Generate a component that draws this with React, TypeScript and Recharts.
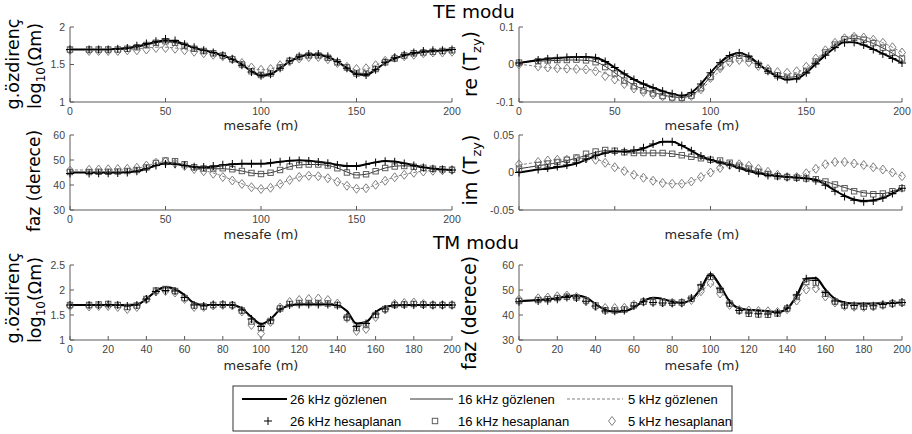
import React from "react";
import { LineChart, Line, XAxis, YAxis } from "recharts";

// mesafe (m)
const mesafe = [
  0, 5, 10, 15, 20, 25, 30, 35, 40, 45, 50, 55, 60, 65, 70, 75, 80, 85, 90, 95, 100,
  105, 110, 115, 120, 125, 130, 135, 140, 145, 150, 155, 160, 165, 170, 175, 180, 185, 190, 195, 200,
];

// TE modu - görünür özdirenç (log10)
const teRho26g = [1.70,1.70,1.70,1.70,1.70,1.71,1.72,1.74,1.77,1.80,1.82,1.81,1.77,1.72,1.69,1.66,1.62,1.57,1.50,1.41,1.35,1.37,1.45,1.54,1.60,1.63,1.63,1.60,1.54,1.45,1.37,1.36,1.43,1.52,1.58,1.62,1.65,1.67,1.68,1.69,1.70];
const teRho16g = [1.70,1.70,1.70,1.70,1.70,1.70,1.71,1.73,1.76,1.79,1.80,1.79,1.76,1.72,1.69,1.66,1.62,1.57,1.50,1.42,1.37,1.38,1.46,1.54,1.60,1.62,1.62,1.59,1.54,1.46,1.39,1.38,1.44,1.52,1.58,1.62,1.64,1.66,1.67,1.68,1.69];
const teRho5g = [1.70,1.70,1.70,1.70,1.70,1.70,1.70,1.71,1.72,1.73,1.73,1.72,1.70,1.68,1.66,1.64,1.61,1.57,1.52,1.46,1.43,1.44,1.49,1.54,1.58,1.60,1.60,1.57,1.52,1.47,1.43,1.44,1.49,1.55,1.59,1.62,1.64,1.66,1.67,1.67,1.68];
const teRho26h = [1.70,null,1.70,1.70,1.70,1.71,1.72,1.75,1.78,1.81,1.84,1.82,1.77,1.73,1.69,1.66,1.62,1.57,1.49,1.40,1.35,1.37,1.45,1.55,1.61,1.64,1.64,1.61,1.54,1.45,1.37,1.36,1.43,1.53,1.59,1.63,1.66,1.68,1.69,1.69,1.70];
const teRho16h = [1.70,null,1.70,1.70,1.70,1.70,1.71,1.73,1.76,1.79,1.81,1.79,1.75,1.71,1.68,1.65,1.62,1.57,1.50,1.41,1.36,1.38,1.46,1.55,1.60,1.62,1.62,1.59,1.53,1.46,1.38,1.38,1.44,1.53,1.58,1.62,1.65,1.66,1.67,1.68,1.69];
const teRho5h = [1.69,null,1.68,1.68,1.68,1.68,1.69,1.69,1.70,1.72,1.72,1.71,1.69,1.67,1.65,1.63,1.61,1.57,1.52,1.46,1.43,1.44,1.49,1.54,1.58,1.60,1.60,1.57,1.52,1.47,1.44,1.45,1.49,1.55,1.59,1.61,1.63,1.65,1.66,1.66,1.67];

// TE modu - re(Tzy)
const teRe26g = [0.004,0.008,0.012,0.015,0.017,0.019,0.020,0.020,0.018,0.008,-0.008,-0.025,-0.040,-0.052,-0.062,-0.071,-0.078,-0.083,-0.075,-0.052,-0.022,0.005,0.024,0.031,0.022,0.002,-0.018,-0.032,-0.040,-0.038,-0.022,0.002,0.025,0.045,0.060,0.059,0.052,0.041,0.029,0.017,0.004];
const teRe16g = [0.005,0.007,0.009,0.010,0.011,0.012,0.012,0.011,0.007,-0.005,-0.022,-0.040,-0.055,-0.066,-0.074,-0.081,-0.086,-0.088,-0.082,-0.062,-0.032,-0.004,0.016,0.024,0.017,0.000,-0.016,-0.028,-0.034,-0.032,-0.016,0.008,0.032,0.052,0.066,0.070,0.065,0.056,0.044,0.030,0.015];
const teRe5g = [0.000,-0.002,-0.006,-0.008,-0.010,-0.011,-0.012,-0.013,-0.016,-0.024,-0.036,-0.050,-0.062,-0.071,-0.078,-0.083,-0.086,-0.087,-0.084,-0.068,-0.042,-0.016,0.002,0.010,0.008,-0.004,-0.014,-0.022,-0.025,-0.021,-0.008,0.014,0.036,0.056,0.069,0.075,0.073,0.067,0.058,0.046,0.032];
const teRe26h = [0.004,null,0.012,0.015,0.017,0.019,0.020,0.020,0.018,0.008,-0.008,-0.025,-0.040,-0.052,-0.062,-0.071,-0.078,-0.083,-0.075,-0.052,-0.022,0.005,0.024,0.031,0.022,0.002,-0.018,-0.032,-0.040,-0.038,-0.022,0.002,0.025,0.045,0.058,0.059,0.052,0.040,0.028,0.016,0.004];
const teRe16h = [0.005,null,0.009,0.011,0.012,0.012,0.013,0.011,0.006,-0.007,-0.024,-0.043,-0.058,-0.069,-0.077,-0.084,-0.088,-0.089,-0.083,-0.063,-0.033,-0.005,0.016,0.023,0.016,-0.001,-0.017,-0.029,-0.035,-0.033,-0.017,0.008,0.032,0.053,0.067,0.071,0.066,0.057,0.045,0.031,0.016];
const teRe5h = [0.000,null,-0.005,-0.008,-0.010,-0.011,-0.012,-0.013,-0.018,-0.031,-0.040,-0.052,-0.064,-0.073,-0.080,-0.085,-0.088,-0.089,-0.084,-0.066,-0.036,-0.010,0.006,0.012,0.006,-0.004,-0.012,-0.020,-0.022,-0.018,-0.006,0.016,0.038,0.058,0.070,0.074,0.072,0.066,0.058,0.046,0.032];

// TE modu - faz (derece)
const teFaz26g = [45.0,45.0,45.0,45.0,45.0,45.0,45.2,45.6,46.5,47.8,48.6,48.4,47.8,47.2,47.0,47.3,47.9,48.3,48.5,48.5,48.5,48.8,49.3,49.7,49.9,49.7,49.3,48.8,48.1,47.6,47.6,48.3,49.1,49.6,49.4,48.7,47.9,47.1,46.6,46.2,46.0];
const teFaz16g = [45.0,45.0,45.0,45.0,45.0,45.0,45.1,45.3,46.2,47.8,49.0,48.8,48.0,47.0,46.6,46.5,46.5,46.2,45.6,44.8,44.5,44.9,46.0,47.3,48.0,48.2,48.2,47.8,46.8,45.2,44.0,44.3,45.5,46.8,47.5,47.7,47.4,47.0,46.6,46.3,46.0];
const teFaz5g = [46.0,46.0,46.0,46.0,46.0,46.0,46.1,46.6,47.6,48.7,49.3,48.6,47.6,46.6,45.8,44.8,43.5,42.0,40.5,39.2,38.5,39.0,40.5,42.0,43.2,43.8,43.6,42.8,41.4,39.8,38.6,38.8,40.2,41.8,43.2,44.2,45.0,45.5,45.8,46.0,46.0];
const teFaz26h = [44.6,null,44.6,44.7,44.7,44.8,45.0,45.5,46.5,47.8,48.4,48.3,47.8,47.3,47.2,47.6,48.1,48.4,48.6,48.5,48.6,48.9,49.3,49.7,49.8,49.6,49.2,48.7,48.0,47.5,47.5,48.2,49.0,49.5,49.3,48.6,47.8,47.0,46.5,46.2,46.0];
const teFaz16h = [45.2,null,45.2,45.3,45.3,45.4,45.6,46.0,47.0,48.8,49.8,49.5,48.3,47.1,46.6,46.6,46.7,46.3,45.6,44.8,44.4,44.9,46.0,47.4,48.0,48.2,48.2,47.8,46.7,45.0,43.9,44.3,45.5,46.8,47.4,47.6,47.3,46.9,46.5,46.3,46.1];
const teFaz5h = [45.8,null,46.1,46.2,46.3,46.4,46.5,46.9,47.8,48.9,49.4,48.6,47.6,46.4,45.5,44.5,43.2,41.8,40.4,39.1,38.4,38.9,40.4,42.0,43.2,43.7,43.5,42.7,41.3,39.7,38.5,38.7,40.1,41.7,43.1,44.1,44.9,45.4,45.7,45.9,46.0];

// TE modu - im(Tzy)
const teIm26g = [0.000,0.002,0.004,0.005,0.007,0.009,0.012,0.017,0.022,0.026,0.028,0.028,0.029,0.032,0.037,0.041,0.041,0.036,0.029,0.022,0.017,0.013,0.010,0.006,0.002,-0.001,-0.003,-0.005,-0.006,-0.007,-0.008,-0.010,-0.016,-0.024,-0.031,-0.036,-0.038,-0.037,-0.034,-0.028,-0.021];
const teIm16g = [0.005,0.007,0.009,0.011,0.013,0.016,0.019,0.023,0.027,0.029,0.029,0.027,0.026,0.026,0.026,0.026,0.025,0.023,0.021,0.019,0.017,0.015,0.012,0.008,0.004,0.001,-0.002,-0.004,-0.005,-0.006,-0.007,-0.009,-0.012,-0.016,-0.020,-0.024,-0.027,-0.028,-0.028,-0.025,-0.021];
const teIm5g = [0.010,0.012,0.014,0.015,0.016,0.017,0.018,0.019,0.018,0.013,0.008,0.003,-0.002,-0.006,-0.010,-0.013,-0.015,-0.015,-0.012,-0.006,0.000,0.005,0.010,0.011,0.009,0.005,0.001,-0.003,-0.006,-0.006,-0.001,0.005,0.011,0.014,0.014,0.012,0.010,0.007,0.004,0.000,-0.005];
const teIm26h = [0.000,null,0.004,0.006,0.008,0.010,0.013,0.018,0.023,0.026,0.028,0.028,0.030,0.033,0.038,0.041,0.041,0.036,0.029,0.022,0.017,0.013,0.010,0.006,0.002,-0.001,-0.004,-0.005,-0.006,-0.007,-0.008,-0.011,-0.017,-0.025,-0.032,-0.037,-0.039,-0.038,-0.034,-0.028,-0.021];
const teIm16h = [0.005,null,0.010,0.012,0.014,0.017,0.020,0.025,0.028,0.030,0.029,0.027,0.026,0.026,0.026,0.026,0.025,0.023,0.021,0.019,0.017,0.016,0.013,0.009,0.005,0.001,-0.002,-0.005,-0.006,-0.007,-0.008,-0.009,-0.012,-0.016,-0.021,-0.025,-0.028,-0.029,-0.028,-0.025,-0.021];
const teIm5h = [0.011,null,0.014,0.016,0.017,0.017,0.018,0.019,0.017,0.013,0.007,0.002,-0.003,-0.007,-0.011,-0.014,-0.015,-0.015,-0.012,-0.006,0.000,0.006,0.010,0.011,0.009,0.005,0.001,-0.003,-0.006,-0.006,-0.001,0.005,0.011,0.014,0.014,0.012,0.010,0.007,0.004,0.000,-0.005];

// TM modu - görünür özdirenç (log10)
const tmRho26g = [1.70,1.70,1.70,1.70,1.70,1.70,1.70,1.71,1.82,1.98,2.06,2.02,1.90,1.74,1.70,1.70,1.70,1.70,1.63,1.46,1.32,1.42,1.61,1.69,1.71,1.71,1.71,1.71,1.69,1.58,1.33,1.36,1.56,1.66,1.69,1.70,1.70,1.70,1.70,1.70,1.70];
const tmRho16g = [1.70,1.70,1.70,1.70,1.70,1.70,1.70,1.71,1.81,1.97,2.05,2.01,1.89,1.74,1.70,1.70,1.70,1.70,1.62,1.45,1.31,1.41,1.60,1.69,1.72,1.72,1.72,1.72,1.70,1.57,1.32,1.35,1.55,1.66,1.69,1.70,1.70,1.70,1.70,1.70,1.70];
const tmRho5g = [1.69,1.69,1.69,1.69,1.69,1.68,1.68,1.70,1.80,1.96,2.03,2.00,1.88,1.73,1.69,1.69,1.70,1.69,1.60,1.42,1.28,1.38,1.60,1.71,1.74,1.75,1.75,1.74,1.71,1.55,1.28,1.33,1.54,1.66,1.70,1.71,1.71,1.70,1.70,1.70,1.70];
const tmRho26h = [1.70,null,1.70,1.70,1.71,1.70,1.68,1.70,1.82,1.97,1.99,1.98,1.85,1.70,1.68,1.71,1.71,1.70,1.60,1.42,1.27,1.40,1.62,1.70,1.71,1.71,1.71,1.71,1.69,1.46,1.27,1.33,1.52,1.62,1.70,1.70,1.70,1.70,1.70,1.70,1.70];
const tmRho16h = [1.70,null,1.70,1.71,1.72,1.70,1.66,1.69,1.82,1.99,2.02,1.98,1.84,1.69,1.67,1.70,1.71,1.70,1.59,1.37,1.24,1.38,1.63,1.72,1.74,1.74,1.74,1.73,1.70,1.45,1.24,1.30,1.50,1.62,1.70,1.71,1.72,1.71,1.70,1.70,1.70];
const tmRho5h = [1.68,null,1.67,1.68,1.68,1.66,1.62,1.66,1.81,1.97,1.98,1.95,1.82,1.66,1.66,1.69,1.70,1.69,1.57,1.30,1.13,1.36,1.65,1.76,1.80,1.82,1.83,1.80,1.73,1.44,1.18,1.22,1.46,1.61,1.72,1.74,1.75,1.72,1.70,1.70,1.70];

// TM modu - faz (derece)
const tmFaz26g = [45.5,45.8,46.0,46.3,46.8,47.5,47.8,47.0,44.4,42.0,41.3,41.5,43.0,45.5,46.9,46.4,45.3,44.9,46.2,50.8,56.5,51.8,45.5,42.6,42.0,41.8,41.5,41.1,42.6,47.8,54.6,54.8,50.2,46.5,45.0,44.6,44.6,44.6,44.7,44.8,45.0];
const tmFaz16g = [45.3,45.6,45.9,46.2,46.6,47.2,47.6,46.8,44.5,42.3,41.5,41.7,43.2,45.8,47.0,46.6,45.5,45.0,46.0,50.0,55.5,51.2,45.6,42.8,42.2,41.9,41.6,41.2,42.5,47.0,53.5,54.0,49.8,46.5,45.0,44.6,44.5,44.5,44.6,44.8,45.0];
const tmFaz5g = [45.5,45.8,46.2,46.6,47.0,47.4,47.5,46.6,44.6,42.8,42.2,42.4,43.7,45.9,46.8,46.4,45.4,44.9,45.6,48.8,52.5,49.5,45.2,42.8,42.2,42.0,41.8,41.5,42.4,46.0,50.5,51.0,48.3,46.0,44.8,44.4,44.3,44.3,44.5,44.7,45.0];
const tmFaz26h = [45.3,null,45.6,45.7,46.3,47.0,46.8,45.5,43.6,41.6,41.5,41.8,43.6,45.3,45.0,44.8,44.7,44.8,46.8,52.0,55.8,50.5,44.8,41.8,40.8,40.5,40.4,40.8,42.8,48.0,54.5,53.8,49.0,45.6,44.0,43.8,43.6,43.7,44.2,44.6,45.0];
const tmFaz16h = [45.6,null,46.0,46.3,46.8,47.3,47.0,45.8,43.8,41.9,41.8,42.2,43.9,45.3,45.2,45.0,44.9,45.0,46.5,51.2,55.3,50.0,44.6,41.8,40.5,40.2,40.1,40.6,42.6,47.2,53.2,52.8,48.5,45.4,43.8,43.5,43.3,43.5,44.0,44.6,45.0];
const tmFaz5h = [46.2,null,46.7,47.0,47.5,47.8,47.2,45.5,43.4,42.8,42.8,42.9,44.1,45.3,45.2,45.0,44.9,44.9,46.0,49.5,52.8,48.6,44.0,42.0,41.8,41.6,41.5,41.2,42.3,45.8,50.2,50.6,47.4,45.0,43.6,43.3,43.2,43.4,44.0,44.6,45.0];

// eksen işaretleri
const xTicks50 = [0, 50, 100, 150, 200];
const xTicks20 = [0, 20, 40, 60, 80, 100, 120, 140, 160, 180, 200];
const rhoTeTicks = [1, 1.5, 2];
const reTicks = [-0.1, 0, 0.1];
const fazTicks = [30, 40, 50, 60];
const imTicks = [-0.05, 0, 0.05];
const rhoTmTicks = [1, 1.5, 2, 2.5];

type Val = number | null;

const makeRows = (g26: Val[], g16: Val[], g5: Val[], h26: Val[], h16: Val[], h5: Val[]) =>
  mesafe.map((x, i) => ({ x, g26: g26[i], g16: g16[i], g5: g5[i], h26: h26[i], h16: h16[i], h5: h5[i] }));

const TICK_FONT = "'Liberation Sans', Arial, sans-serif";
const LABEL_FONT = "'DejaVu Sans', Verdana, sans-serif";
const AXIS_COLOR = "#5a5a5a";
const PLOT_H = 75;

// işaretçiler
const plusDot = (p: any) => {
  const { cx, cy, index } = p;
  if (cx == null || cy == null || p.value == null) return <g key={`p-${index}`} />;
  return <path key={`p-${index}`} d={`M${cx - 4},${cy}h8M${cx},${cy - 4}v8`} stroke="#000" strokeWidth={1} fill="none" />;
};
const squareDot = (p: any) => {
  const { cx, cy, index } = p;
  if (cx == null || cy == null || p.value == null) return <g key={`s-${index}`} />;
  return <rect key={`s-${index}`} x={cx - 2.7} y={cy - 2.7} width={5.4} height={5.4} stroke="#5c5c5c" strokeWidth={1} fill="none" />;
};
const diamondDot = (p: any) => {
  const { cx, cy, index } = p;
  if (cx == null || cy == null || p.value == null) return <g key={`d-${index}`} />;
  return (
    <path key={`d-${index}`} d={`M${cx},${cy - 4.5}L${cx + 3.5},${cy}L${cx},${cy + 4.5}L${cx - 3.5},${cy}Z`} stroke="#808080" strokeWidth={1} fill="none" />
  );
};
const noTick = () => <g />;

interface PanelProps {
  left: number;
  top: number;
  width: number;
  data: any[];
  yDomain: [number, number];
  yTicks: number[];
  xTicks: number[];
  xLabels?: boolean;
}

const Panel: React.FC<PanelProps> = ({ left, top, width, data, yDomain, yTicks, xTicks, xLabels = true }) => {
  const tickStyle = { fontSize: 10.5, fill: "#444", fontFamily: TICK_FONT };
  const common = { xAxisId: "b", yAxisId: "l", isAnimationActive: false, activeDot: false as const };
  return (
    <div style={{ position: "absolute", left: left - 50, top: top - 10 }}>
      <LineChart width={width + 60} height={PLOT_H + 35} data={data} margin={{ top: 10, right: 10, bottom: 0, left: 0 }}>
        <XAxis
          xAxisId="b"
          dataKey="x"
          type="number"
          domain={[0, 200]}
          ticks={xTicks}
          interval={0}
          height={25}
          stroke={AXIS_COLOR}
          tickSize={-4}
          tickMargin={10}
          tick={xLabels ? tickStyle : noTick}
        />
        <XAxis
          xAxisId="t"
          orientation="top"
          type="number"
          domain={[0, 200]}
          ticks={xTicks}
          interval={0}
          allowDataOverflow
          height={0}
          stroke={AXIS_COLOR}
          tickSize={-4}
          tick={noTick}
        />
        <YAxis
          yAxisId="l"
          type="number"
          domain={yDomain}
          ticks={yTicks}
          interval={0}
          width={50}
          stroke={AXIS_COLOR}
          tickSize={-4}
          tickMargin={9}
          tick={tickStyle}
        />
        <YAxis
          yAxisId="r"
          orientation="right"
          type="number"
          domain={yDomain}
          ticks={yTicks}
          interval={0}
          allowDataOverflow
          width={0}
          stroke={AXIS_COLOR}
          tickSize={-4}
          tick={noTick}
        />
        <Line {...common} dataKey="g5" type="monotone" stroke="#808080" strokeWidth={1} strokeDasharray="3 2" dot={false} />
        <Line {...common} dataKey="g16" type="monotone" stroke="#333" strokeWidth={1} dot={false} />
        <Line {...common} dataKey="g26" type="monotone" stroke="#000" strokeWidth={2} dot={false} />
        <Line {...common} dataKey="h5" stroke="none" dot={diamondDot} />
        <Line {...common} dataKey="h16" stroke="none" dot={squareDot} />
        <Line {...common} dataKey="h26" stroke="none" dot={plusDot} />
      </LineChart>
    </div>
  );
};

const LogRhoLabel = ({ cy }: { cy: number }) => (
  <g fontFamily={LABEL_FONT} fontSize={17.5} fill="#000">
    <text transform={`translate(19,${cy}) rotate(-90)`} textAnchor="middle">g.özdirenç</text>
    <text transform={`translate(41,${cy + 2}) rotate(-90)`} textAnchor="middle">
      log<tspan fontSize={12} dy={4}>10</tspan>
      <tspan dy={-4}>(Ωm)</tspan>
    </text>
  </g>
);

const TzyLabel = ({ cy, name }: { cy: number; name: string }) => (
  <text transform={`translate(477,${cy}) rotate(-90)`} textAnchor="middle" fontFamily={LABEL_FONT} fontSize={19} fill="#000">
    {name} (T<tspan fontSize={13} dy={4}>zy</tspan>
    <tspan dy={-4}>)</tspan>
  </text>
);

export default function App() {
  const xLabel = (x: number, y: number) => (
    <text x={x} y={y} textAnchor="middle" fontFamily={LABEL_FONT} fontSize={13} fill="#262626">
      mesafe (m)
    </text>
  );
  return (
    <div style={{ position: "absolute", left: 0, top: 0, width: 912, height: 434, background: "#fff", overflow: "hidden" }}>
      <Panel left={70} top={27} width={382} data={makeRows(teRho26g, teRho16g, teRho5g, teRho26h, teRho16h, teRho5h)} yDomain={[1, 2]} yTicks={rhoTeTicks} xTicks={xTicks50} />
      <Panel left={519} top={27} width={383} data={makeRows(teRe26g, teRe16g, teRe5g, teRe26h, teRe16h, teRe5h)} yDomain={[-0.1, 0.1]} yTicks={reTicks} xTicks={xTicks50} />
      <Panel left={70} top={135} width={382} data={makeRows(teFaz26g, teFaz16g, teFaz5g, teFaz26h, teFaz16h, teFaz5h)} yDomain={[30, 60]} yTicks={fazTicks} xTicks={xTicks50} />
      <Panel left={519} top={135} width={383} data={makeRows(teIm26g, teIm16g, teIm5g, teIm26h, teIm16h, teIm5h)} yDomain={[-0.05, 0.05]} yTicks={imTicks} xTicks={xTicks50} xLabels={false} />
      <Panel left={70} top={265} width={382} data={makeRows(tmRho26g, tmRho16g, tmRho5g, tmRho26h, tmRho16h, tmRho5h)} yDomain={[1, 2.5]} yTicks={rhoTmTicks} xTicks={xTicks20} />
      <Panel left={519} top={265} width={383} data={makeRows(tmFaz26g, tmFaz16g, tmFaz5g, tmFaz26h, tmFaz16h, tmFaz5h)} yDomain={[30, 60]} yTicks={fazTicks} xTicks={xTicks20} />

      <svg width={912} height={434} style={{ position: "absolute", left: 0, top: 0, pointerEvents: "none" }}>
        {/* başlıklar */}
        <text x={474} y={18} textAnchor="middle" fontFamily={LABEL_FONT} fontSize={18.5} fill="#000">TE modu</text>
        <text x={476} y={249} textAnchor="middle" fontFamily={LABEL_FONT} fontSize={18.5} fill="#000">TM modu</text>

        {/* eksen başlıkları */}
        {xLabel(261, 130)}
        {xLabel(702, 130)}
        {xLabel(261, 239)}
        {xLabel(702, 239)}
        {xLabel(261, 370)}
        {xLabel(702, 370)}

        <LogRhoLabel cy={64} />
        <text transform="translate(40,181) rotate(-90)" textAnchor="middle" fontFamily={LABEL_FONT} fontSize={17} fill="#000">faz (derece)</text>
        <LogRhoLabel cy={298} />
        <TzyLabel cy={64} name="re" />
        <TzyLabel cy={170} name="im" />
        <text transform="translate(476,313) rotate(-90)" textAnchor="middle" fontFamily={LABEL_FONT} fontSize={19} fill="#000">faz (derece)</text>

        {/* lejant */}
        <g fontFamily={TICK_FONT} fontSize={13} fill="#000">
          <rect x={233} y={386} width={499} height={45} fill="#fff" stroke="#333" strokeWidth={1} />
          <line x1={242} x2={287} y1={399} y2={399} stroke="#000" strokeWidth={2} />
          <text x={290} y={403.5}>26 kHz gözlenen</text>
          <line x1={410} x2={453} y1={399} y2={399} stroke="#333" strokeWidth={1} />
          <text x={458} y={403.5}>16 kHz gözlenen</text>
          <line x1={567} x2={623} y1={399} y2={399} stroke="#808080" strokeWidth={1} strokeDasharray="3 2" />
          <text x={628} y={403.5}>5 kHz gözlenen</text>

          <path d="M264,421h8M268,417v8" stroke="#000" strokeWidth={1} />
          <text x={290} y={425.5}>26 kHz hesaplanan</text>
          <rect x={432.3} y={418.3} width={5.4} height={5.4} stroke="#5c5c5c" strokeWidth={1} fill="none" />
          <text x={458} y={425.5}>16 kHz hesaplanan</text>
          <path d="M612,416.5L615.5,421L612,425.5L608.5,421Z" stroke="#808080" strokeWidth={1} fill="none" />
          <text x={628} y={425.5}>5 kHz hesaplanan</text>
        </g>
      </svg>
    </div>
  );
}
